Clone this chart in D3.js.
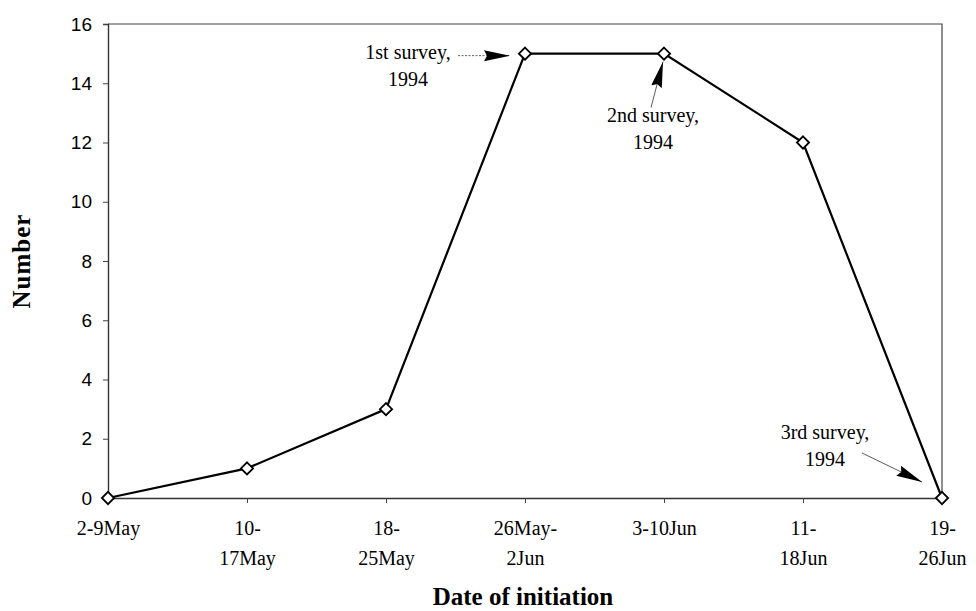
<!DOCTYPE html>
<html>
<head>
<meta charset="utf-8">
<script src="https://cdn.jsdelivr.net/npm/d3@7"></script>
<style>
  body { margin: 0; background: #fff; }
  svg { display: block; }
</style>
</head>
<body>
<div id="chart"></div>
<script>
const WIDTH = 976;
const HEIGHT = 611;

// categories (two-line labels) and counts
const periods = ["2-9May", "10-17May", "18-25May", "26May-2Jun", "3-10Jun", "11-18Jun", "19-26Jun"];
const periodLines = [["2-9May"], ["10-", "17May"], ["18-", "25May"], ["26May-", "2Jun"], ["3-10Jun"], ["11-", "18Jun"], ["19-", "26Jun"]];
const counts = [0, 1, 3, 15, 15, 12, 0];
const yTicks = [0, 2, 4, 6, 8, 10, 12, 14, 16];

// survey call-outs: which period they point at
const surveyNotes = [
  { lines: ["1st survey,", "1994"], period: "26May-2Jun" },
  { lines: ["2nd survey,", "1994"], period: "3-10Jun" },
  { lines: ["3rd survey,", "1994"], period: "19-26Jun" }
];

const margin = { top: 24, right: 34, bottom: 113, left: 108 };
const innerW = WIDTH - margin.left - margin.right;
const innerH = HEIGHT - margin.top - margin.bottom;

const serif = "Liberation Serif, Times New Roman, serif";

const svg = d3.select("#chart").append("svg")
  .attr("width", WIDTH)
  .attr("height", HEIGHT);

svg.append("defs").append("marker")
  .attr("id", "head")
  .attr("viewBox", "0 0 26 12")
  .attr("refX", 26).attr("refY", 6)
  .attr("markerWidth", 26).attr("markerHeight", 12)
  .attr("markerUnits", "userSpaceOnUse")
  .attr("orient", "auto")
  .append("path")
  .attr("d", "M0,0.5 L26,6 L0,11.5 L3,6 Z")
  .attr("fill", "#000");

const g = svg.append("g").attr("transform", `translate(${margin.left},${margin.top})`);

const x = d3.scalePoint().domain(periods).range([0, innerW]).padding(0);
const y = d3.scaleLinear().domain([0, 16]).range([innerH, 0]);

// frame (top + right)
g.append("path")
  .attr("d", `M0,0 H${innerW} V${innerH}`)
  .attr("fill", "none")
  .attr("stroke", "#444")
  .attr("stroke-width", 1.2);

// y axis
const yAxis = g.append("g").call(d3.axisLeft(y).tickValues(yTicks).tickSize(5).tickPadding(11));
yAxis.select(".domain").attr("stroke", "#333").attr("stroke-width", 1.4);
yAxis.selectAll(".tick line").attr("stroke", "#444");
yAxis.selectAll("text")
  .style("font-family", "Liberation Sans, Arial, sans-serif")
  .style("font-size", "19px")
  .attr("fill", "#000");

// x axis
const xAxis = g.append("g").attr("transform", `translate(0,${innerH})`)
  .call(d3.axisBottom(x).tickSize(5).tickFormat(""));
xAxis.select(".domain").attr("stroke", "#333").attr("stroke-width", 1.4);
xAxis.selectAll(".tick line").attr("stroke", "#444");
xAxis.selectAll(".tick").each(function(d, i) {
  const t = d3.select(this).append("text")
    .attr("text-anchor", "middle")
    .attr("fill", "#000")
    .style("font-family", serif)
    .style("font-size", "20px");
  periodLines[i].forEach((s, k) => {
    t.append("tspan").attr("x", 0).attr("y", 37 + k * 30).text(s);
  });
});

// axis titles
svg.append("text")
  .attr("x", margin.left + innerW / 2 - 2)
  .attr("y", 605)
  .attr("text-anchor", "middle")
  .style("font-family", serif)
  .style("font-size", "25px")
  .style("font-weight", "bold")
  .text("Date of initiation");

svg.append("text")
  .attr("transform", `translate(30,${margin.top + innerH / 2}) rotate(-90)`)
  .attr("text-anchor", "middle")
  .style("font-family", serif)
  .style("font-size", "25px")
  .style("font-weight", "bold")
  .style("letter-spacing", "1px")
  .text("Number");

// series
const line = d3.line().x((d, i) => x(periods[i])).y(d => y(d));
g.append("path")
  .datum(counts)
  .attr("d", line)
  .attr("fill", "none")
  .attr("stroke", "#000")
  .attr("stroke-width", 2.2);

const diamond = d3.symbol().type(d3.symbolDiamond2).size(95);
g.selectAll(".pt")
  .data(counts)
  .enter()
  .append("path")
  .attr("class", "pt")
  .attr("transform", (d, i) => `translate(${x(periods[i])},${y(d)})`)
  .attr("d", diamond)
  .attr("fill", "#fff")
  .attr("stroke", "#000")
  .attr("stroke-width", 1.8);

// call-outs: text offset + arrow from tail to tip, relative to the point
const noteLayout = [
  { tx: -117, ty: 5, tail: [-67, 2], tip: [-15, 2], dash: "2,1.5" },
  { tx: -11, ty: 68, tail: [-13, 54], tip: [-1, 8], dash: null },
  { tx: -117, ty: -59, tail: [-80, -45], tip: [-20, -16], dash: null }
];

surveyNotes.forEach((n, i) => {
  const px = x(n.period);
  const py = y(counts[periods.indexOf(n.period)]);
  const L = noteLayout[i];
  const t = g.append("text")
    .attr("text-anchor", "middle")
    .style("font-family", serif)
    .style("font-size", "20px")
    .attr("fill", "#000");
  n.lines.forEach((s, k) => {
    t.append("tspan").attr("x", px + L.tx).attr("y", py + L.ty + k * 27).text(s);
  });
  g.append("line")
    .attr("x1", px + L.tail[0]).attr("y1", py + L.tail[1])
    .attr("x2", px + L.tip[0]).attr("y2", py + L.tip[1])
    .attr("stroke", "#333")
    .attr("stroke-width", 0.8)
    .attr("stroke-dasharray", L.dash)
    .attr("marker-end", "url(#head)");
});
</script>
</body>
</html>
